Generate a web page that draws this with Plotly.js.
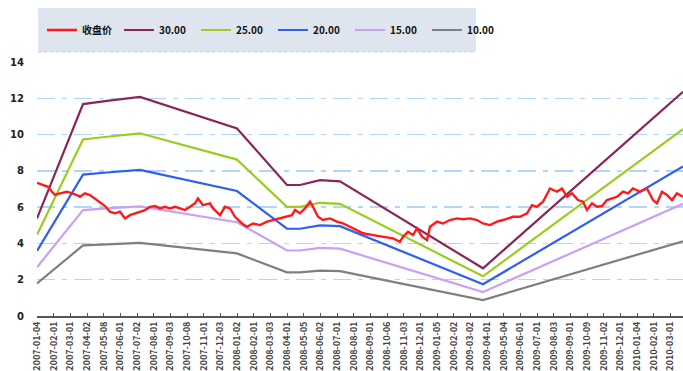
<!DOCTYPE html>
<html><head><meta charset="utf-8">
<script src="https://cdn.plot.ly/plotly-3.0.1.min.js"></script>
<style>html,body{margin:0;padding:0;background:#fff;}#chart{width:683px;height:371px;}</style>
</head><body><div id="chart"></div>
<script>
// tick labels (one per month)
const tickLabels = ["2007-01-04","2007-02-01","2007-03-01","2007-04-02","2007-05-08","2007-06-01","2007-07-02","2007-08-01","2007-09-03","2007-10-08","2007-11-01","2007-12-03","2008-01-02","2008-02-01","2008-03-03","2008-04-01","2008-05-05","2008-06-02","2008-07-01","2008-08-01","2008-09-01","2008-10-06","2008-11-03","2008-12-01","2009-01-05","2009-02-02","2009-03-02","2009-04-01","2009-05-04","2009-06-01","2009-07-01","2009-08-03","2009-09-01","2009-10-09","2009-11-02","2009-12-01","2010-01-04","2010-02-01","2010-03-01"];
const tickPos = [0,1,2,3,4,5,6,7,8,9,10,11,12,13,14,15,16,17,18,19,20,21,22,23,24,25,26,27,28,29,30,31,32,33,34,35,36,37,38];

// closing price (time in months from start, price)
const priceT = [0,0.36,0.66,0.9,1.08,1.38,1.8,2.1,2.4,2.58,2.88,3.18,3.48,3.78,4.08,4.38,4.68,4.98,5.28,5.58,5.88,6.18,6.48,6.78,7.08,7.38,7.68,7.98,8.28,8.58,8.88,9.18,9.48,9.66,9.96,10.38,10.56,10.98,11.28,11.58,11.88,12.3,12.6,12.96,13.38,13.8,14.16,14.58,15.0,15.3,15.48,15.78,16.08,16.38,16.56,16.86,17.16,17.58,18.0,18.36,18.78,19.2,19.56,20.16,20.76,21.36,21.78,21.96,22.26,22.56,22.8,23.1,23.4,23.58,24.0,24.36,24.78,25.2,25.56,25.98,26.4,26.76,27.18,27.6,27.96,28.56,28.98,29.4,29.7,30.0,30.36,30.78,31.2,31.5,31.8,32.1,32.46,32.76,33.0,33.3,33.6,33.9,34.2,34.5,34.8,35.16,35.46,35.76,36.18,36.6,36.96,37.2,37.5,37.8,38.1,38.4,38.76];
const price = [7.34,7.22,7.12,6.85,6.67,6.76,6.85,6.76,6.67,6.57,6.76,6.67,6.48,6.30,6.06,5.75,5.66,5.75,5.38,5.56,5.66,5.75,5.84,6.02,6.06,5.93,6.02,5.93,6.02,5.93,5.84,6.02,6.21,6.48,6.11,6.21,5.93,5.56,6.02,5.93,5.47,5.10,4.92,5.10,5.01,5.20,5.29,5.38,5.47,5.56,5.84,5.66,5.93,6.30,6.02,5.47,5.29,5.38,5.20,5.10,4.92,4.74,4.56,4.46,4.37,4.28,4.09,4.37,4.64,4.46,4.83,4.37,4.19,4.92,5.20,5.10,5.29,5.38,5.33,5.38,5.29,5.10,5.01,5.20,5.29,5.47,5.47,5.66,6.11,6.02,6.30,7.03,6.85,7.03,6.57,6.76,6.39,6.30,5.84,6.21,6.02,6.06,6.39,6.48,6.57,6.85,6.76,7.03,6.85,7.03,6.39,6.21,6.85,6.67,6.39,6.76,6.57];

// PE band lines (vertex times, values)
const bandT = [0,2.76,4.2,5.4,6.18,12.0,15.0,15.78,16.98,18.18,26.76,38.76];
const pe30 = [5.38,11.68,11.86,12.0,12.08,10.34,7.22,7.22,7.49,7.42,2.63,12.36];
const pe25 = [4.48,9.73,9.88,10.0,10.07,8.62,6.02,6.02,6.24,6.18,2.19,10.30];
const pe20 = [3.59,7.79,7.91,8.0,8.05,6.89,4.81,4.81,4.99,4.95,1.75,8.24];
const pe15 = [2.69,5.84,5.93,6.0,6.04,5.17,3.61,3.61,3.75,3.71,1.32,6.18];
const pe10 = [1.79,3.89,3.95,4.0,4.03,3.45,2.41,2.41,2.50,2.47,0.88,4.12];
const names = ["收盘价","30.00","25.00","20.00","15.00","10.00"];
const colors = ["#ff1a1a","#8c2458","#9acd1e","#2f5ff0","#c9a0f2","#7f7f7f"];

const bands = [pe30,pe25,pe20,pe15,pe10];
const traces = bands.map((b,i)=>({
  x: bandT, y: b, type:'scatter', mode:'lines', name:names[i+1],
  line:{color:colors[i+1], width:2.2}, legendrank:i+2
}));
traces.push({x:priceT, y:price, type:'scatter', mode:'lines', name:names[0],
  line:{color:colors[0], width:2.4}, legendrank:1});

const L=37, T=62, W=683, H=371, B=55;
const pw = W-L, ph = H-T-B;
const layout = {
  width:W, height:H, margin:{l:L,r:0,t:T,b:B},
  paper_bgcolor:'#fff', plot_bgcolor:'#fff',
  showlegend:true,
  legend:{orientation:'h', x:(42-L)/pw, xanchor:'left', y:(H-B-30)/ph, yanchor:'middle',
    bgcolor:'rgba(0,0,0,0)', entrywidth:32, entrywidthmode:'pixels', itemwidth:30,
    font:{family:'"Noto Sans CJK SC", "DejaVu Sans", sans-serif', size:10, color:'#111', weight:'bold'}},
  shapes:[
    {type:'rect', xref:'paper', yref:'paper', x0:(38-L)/pw, x1:(476-L)/pw, y0:(H-B-52)/ph, y1:(H-B-8)/ph,
     fillcolor:'#dfe5ee', line:{width:0}, layer:'below'},
    {type:'line', xref:'paper', yref:'paper', x0:(38-L)/pw, x1:(476-L)/pw, y0:(H-B-52)/ph, y1:(H-B-52)/ph,
     line:{color:'#c4ccd8', width:1, dash:'dot'}}
  ],
  xaxis:{range:[0,38.76], tickvals:tickPos, ticktext:tickLabels, tickangle:-90,
    showgrid:false, zeroline:false, showline:true, linecolor:'#555', linewidth:2,
    ticks:'inside', ticklen:3, tickcolor:'#555',
    tickfont:{family:'"Noto Sans CJK SC", "DejaVu Sans", sans-serif', size:9, color:'#444', weight:'bold'}},
  yaxis:{range:[0,14], tickvals:[0,2,4,6,8,10,12,14], showgrid:true, gridcolor:'#b0d6fc', gridwidth:1.5,
    griddash:'18px,7px,5px,7px', zeroline:false, showline:false, ticks:'', ticklabelstandoff:12,
    tickfont:{family:'"DejaVu Sans", sans-serif', size:10, color:'#222', weight:'bold'}},
};
Plotly.newPlot('chart', traces, layout, {staticPlot:true, displayModeBar:false});
</script></body></html>
